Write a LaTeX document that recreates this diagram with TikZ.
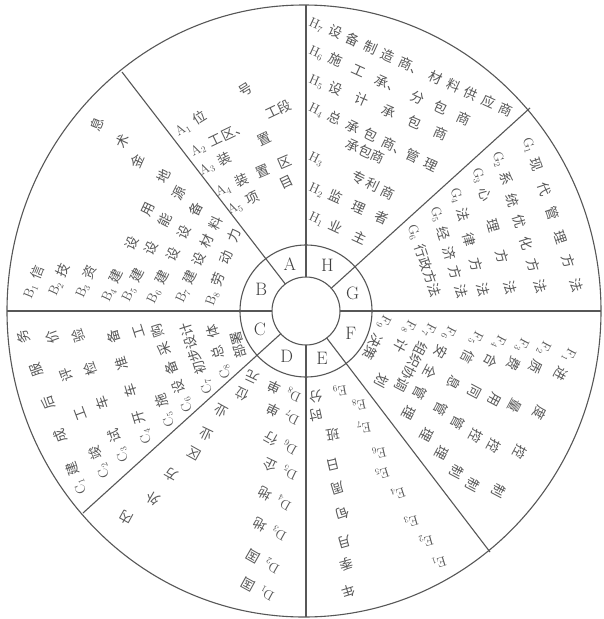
\documentclass[tikz,border=0pt]{standalone}
\usepackage{fontspec}
\newfontfamily\cjk{Noto Sans CJK SC}
\tikzset{
  txt/.style={anchor=west, inner sep=0pt, outer sep=0pt, font=\cjk\fontsize{13.5}{13.5}\selectfont, text=black!66},
  ringlbl/.style={font=\fontsize{18}{18}\selectfont, text=black!75, inner sep=0pt},
  divline/.style={draw=black!66, line width=1.1pt}
}
\newcommand\lb[2]{{\normalfont #1$_{#2}$}\hspace{6pt}}
% #1 name, #2 #3 start (image px), #4 #5 end, #6 label, #7 text
\newcommand\TL[7]{%
  \pgfmathsetmacro\tlAng{atan2(#3-#5,#4-#2)}%
  \pgfmathsetmacro\tlLen{veclen(#4-#2,#5-#3)}%
  \node[txt, rotate=\tlAng] (#1) at (#2,#3) {\makebox[\tlLen pt][s]{#6#7}};%
}
\begin{document}
\begin{tikzpicture}[x=1pt,y=-1pt]
\fill[white] (0,0) rectangle (604,619);
\useasboundingbox (0,0) rectangle (604,619);
\coordinate (O) at (306,311);
\coordinate (E0) at (304,311);
% circles
\draw[divline] (E0) ellipse [x radius=297pt, y radius=306pt];
\draw[divline] (O) circle [radius=34pt];
\draw[divline] (O) circle [radius=66pt];
% dividers
\coordinate (i1) at (306,277);   \coordinate (o1) at (306,5);
\coordinate (i2) at (331.3,288.2); \coordinate (o2) at (530,108);
\coordinate (i3) at (340,311);   \coordinate (o3) at (601,311);
\coordinate (i4) at (326.7,338); \coordinate (o4) at (490,552);
\coordinate (i5) at (306,345);   \coordinate (o5) at (306,617);
\coordinate (i6) at (280.7,333.8); \coordinate (o6) at (83,513);
\coordinate (i7) at (272,311);   \coordinate (o7) at (7,311);
\coordinate (i8) at (285.3,284); \coordinate (o8) at (122,72);
\foreach \k in {1,...,8} {\draw[divline] (i\k) -- (o\k);}
% ring letters
\node[ringlbl] (la) at (289.9,263.7) {A};
\node[ringlbl] (lb) at (261.2,289.5) {B};
\node[ringlbl] (lc) at (259.8,328.9) {C};
\node[ringlbl] (ld) at (286.7,356.7) {D};
\node[ringlbl] (le) at (322.1,358.3) {E};
\node[ringlbl] (lf) at (350.9,333.6) {F};
\node[ringlbl] (lg) at (352.7,293.1) {G};
\node[ringlbl] (lh) at (327.3,265.3) {H};
% A
\TL{a1}{176}{133}{252}{86}{\lb{A}{1}}{位 号}
\TL{a2}{191}{152}{291}{104}{\lb{A}{2}}{工区、 工段}
\TL{a3}{200}{171}{271}{137}{\lb{A}{3}}{装 置}
\TL{a4}{216}{192}{291}{160}{\lb{A}{4}}{装 置 区}
\TL{a5}{228}{211}{293}{180}{\lb{A}{5}}{项 目}
% B
\TL{b1}{27}{298}{100}{118}{\lb{B}{1}}{信 息}
\TL{b2}{52}{295}{126}{135}{\lb{B}{2}}{技 术}
\TL{b3}{79}{297}{141}{155}{\lb{B}{3}}{资 金}
\TL{b4}{105}{301}{167}{170}{\lb{B}{4}}{建 设 用 地}
\TL{b5}{125}{300}{182}{187}{\lb{B}{5}}{建 设 能 源}
\TL{b6}{150}{302}{199}{203}{\lb{B}{6}}{建 设 设 备}
\TL{b7}{179}{302}{219}{217}{\lb{B}{7}}{建 设 材 料}
\TL{b8}{209}{305}{237}{229}{\lb{B}{8}}{劳 动 力}
% C
\TL{c1}{82}{494}{22}{330}{\lb{C}{1}}{建 成 后 服 务}
\TL{c2}{105}{478}{50}{330}{\lb{C}{2}}{竣 工 评 价}
\TL{c3}{124}{462}{77}{329}{\lb{C}{3}}{试 车 检 验}
\TL{c4}{147}{444}{112}{330}{\lb{C}{4}}{开 车 准 备}
\TL{c5}{170}{427}{137}{325}{\lb{C}{5}}{施 工}
\TL{c6}{188}{412}{156}{324}{\lb{C}{6}}{设 备 采 购}
\TL{c7}{208}{394}{184}{319}{\lb{C}{7}}{初步设计}
\TL{c8}{226}{379}{211}{325}{\lb{C}{8}}{总 体}
\TL{c8b}{242}{358}{233}{326}{}{部署}
% D
\TL{d8}{300}{399}{246}{374}{\lb{D}{8}}{单 元}
\TL{d7}{298}{422}{236}{391}{\lb{D}{7}}{单 位}
\TL{d6}{296}{452}{215}{407}{\lb{D}{6}}{行 业}
\TL{d5}{296}{477}{200}{431}{\lb{D}{5}}{企 业}
\TL{d4}{290}{507}{188}{450}{\lb{D}{4}}{地 区}
\TL{d3}{285}{538}{165}{471}{\lb{D}{3}}{地 方}
\TL{d2}{278}{570}{147}{495}{\lb{D}{2}}{国 外}
\TL{d1}{273}{598}{120}{514}{\lb{D}{1}}{国 内}
% E
\TL{e9}{347}{390}{309}{397}{\lb{E}{9}}{\hfill 分}
\TL{e8}{366}{404}{309}{416}{\lb{E}{8}}{\hfill 时}
\TL{e7}{371}{427}{326}{435}{\lb{E}{7}}{\hfill 班}
\TL{e6}{386}{452}{326}{466}{\lb{E}{6}}{\hfill 日}
\TL{e5}{389}{472}{331}{490}{\lb{E}{5}}{\hfill 周}
\TL{e4}{405}{492}{336}{515}{\lb{E}{4}}{\hfill 旬}
\TL{e3}{418}{520}{338}{543}{\lb{E}{3}}{\hfill 月}
\TL{e2}{433}{540}{340}{566}{\lb{E}{2}}{\hfill 季}
\TL{e1}{446}{561}{342}{593}{\lb{E}{1}}{\hfill 年}
% F
\TL{f9}{388}{317}{362}{366}{\lb{F}{9}}{决策}
\TL{f8}{413}{322}{378}{387}{\lb{F}{8}}{计 划}
\TL{f7}{433}{325}{392}{403}{\lb{F}{7}}{组织协调}
\TL{f6}{453}{328}{405}{419}{\lb{F}{6}}{安 全 管 理}
\TL{f5}{480}{333}{423}{441}{\lb{F}{5}}{信 息 管 理}
\TL{f4}{503}{337}{438}{459}{\lb{F}{4}}{合 同 管 理}
\TL{f3}{526}{340}{453}{478}{\lb{F}{3}}{费 用 控 制}
\TL{f2}{548}{343}{469}{491}{\lb{F}{2}}{质 量 控 制}
\TL{f1}{573}{350}{495}{497}{\lb{F}{1}}{进 度 控 制}
% G
\TL{g1}{527}{138}{578}{292}{\lb{G}{1}}{现 代 管 理 方 法}
\TL{g2}{497}{152}{542}{293}{\lb{G}{2}}{系 统 优 化 方 法}
\TL{g3}{477}{168}{512}{294}{\lb{G}{3}}{心 理 方 法}
\TL{g4}{455}{188}{484}{296}{\lb{G}{4}}{法 律 方 法}
\TL{g5}{435}{207}{463}{298}{\lb{G}{5}}{经 济 方 法}
\TL{g6}{412}{225}{438}{302}{\lb{G}{6}}{行政方法}
% H
\TL{h7}{310}{21}{512}{113}{\lb{H}{7}}{设 备 制 造 商、 材 料 供 应 商}
\TL{h6}{310}{49}{470}{122}{\lb{H}{6}}{施 工 承、 分 包 商}
\TL{h5}{310}{78}{447}{137}{\lb{H}{5}}{设 计 承 包 商}
\TL{h4}{310}{106}{437}{168}{\lb{H}{4}}{总 承 包 商、管 理}
\TL{h4b}{347}{143}{395}{165}{}{承包商}
\TL{h3}{310}{155}{394}{196}{\lb{H}{3}}{\hfill 专 利 商}
\TL{h2}{310}{186}{388}{221}{\lb{H}{2}}{监 理 者}
\TL{h1}{310}{215}{366}{241}{\lb{H}{1}}{业 主}
\end{tikzpicture}
\end{document}
